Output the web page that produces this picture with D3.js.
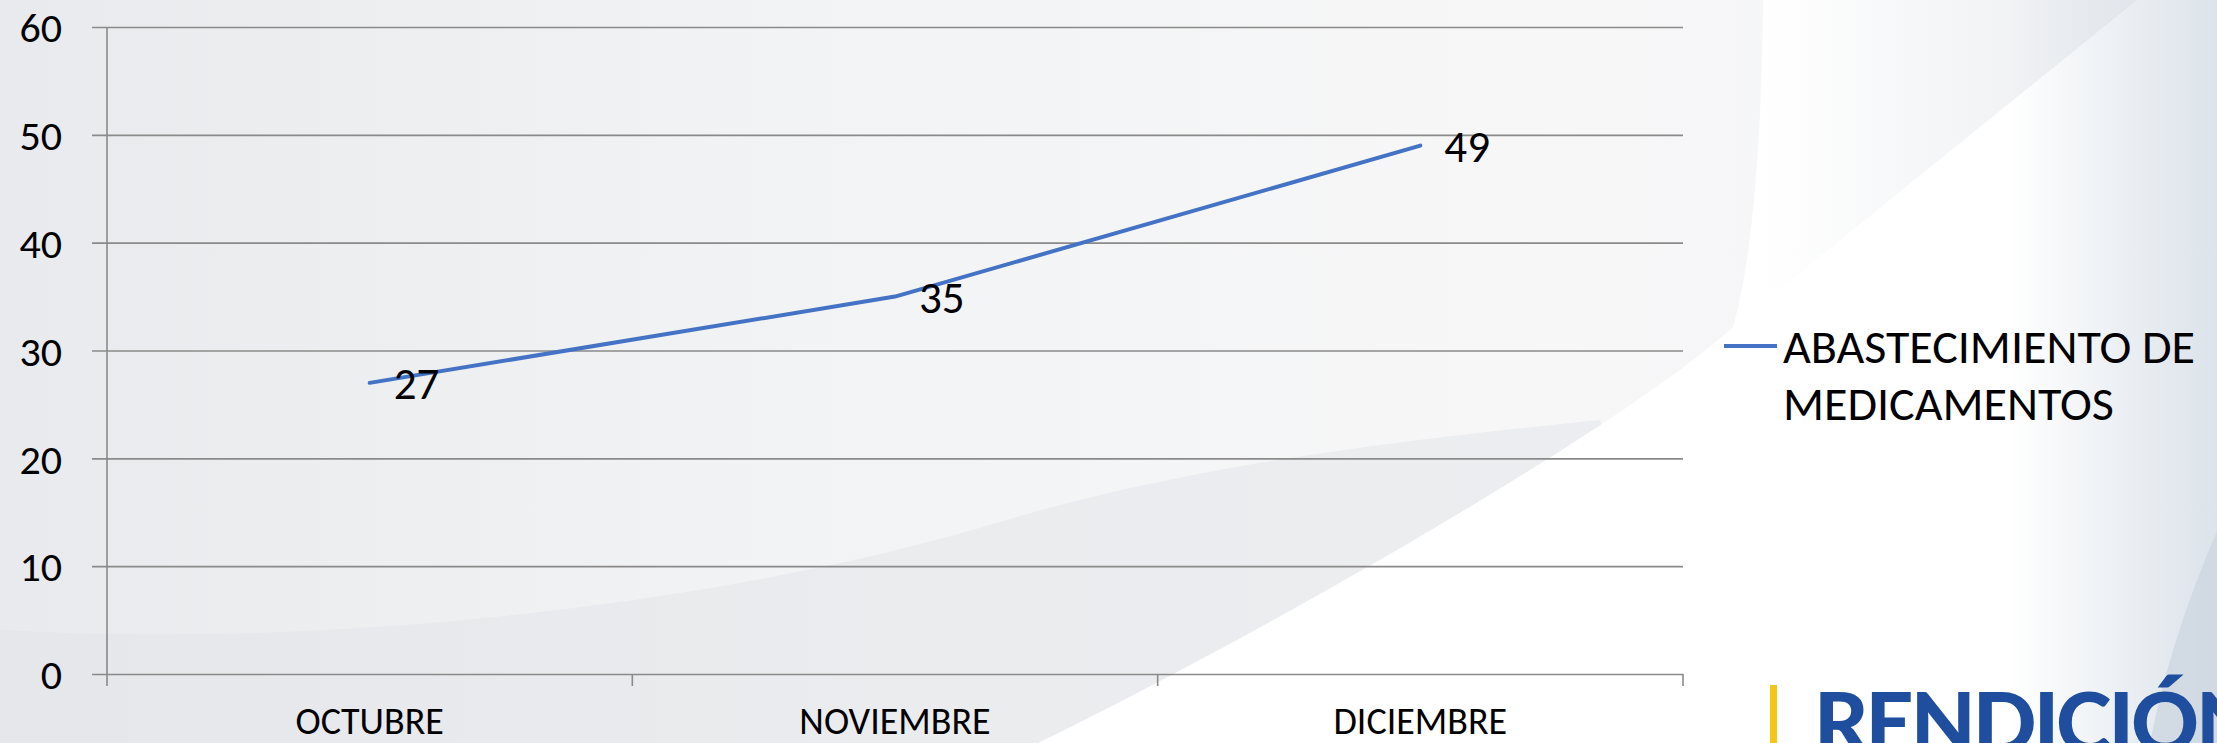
<!DOCTYPE html>
<html>
<head>
<meta charset="utf-8">
<script src="https://cdn.jsdelivr.net/npm/d3@7"></script>
<style>
  body { margin: 0; background: #f3f4f6; }
  svg { display: block; }
  text { font-family: Carlito, Calibri, Lato, sans-serif; fill: #000; }
</style>
</head>
<body>
<svg id="chart" width="2217" height="743"></svg>
<script>
// data
const months = ['OCTUBRE', 'NOVIEMBRE', 'DICIEMBRE'];
const supply = [27, 35, 49];
const yTicks = [0, 10, 20, 30, 40, 50, 60];
const seriesName = ['ABASTECIMIENTO DE', 'MEDICAMENTOS'];

const W = 2217, H = 743;
const margin = { top: 27, right: 534, bottom: 69, left: 107 };
const svg = d3.select('#chart');

// background swooshes
const defs = svg.append('defs');
const bg = defs.append('linearGradient').attr('id', 'bg');
[['0%', '#e8eaed'], ['35%', '#f2f3f4'], ['70%', '#f7f7f8'], ['100%', '#f4f5f7']]
  .forEach(s => bg.append('stop').attr('offset', s[0]).attr('stop-color', s[1]));
const wedge = defs.append('linearGradient').attr('id', 'wedge');
[['0%', '#ffffff'], ['100%', '#eaecef']]
  .forEach(s => wedge.append('stop').attr('offset', s[0]).attr('stop-color', s[1]));
const edge = defs.append('linearGradient').attr('id', 'edge');
[['0%', 'rgba(218,225,233,0)'], ['100%', '#dce3ea']]
  .forEach(s => edge.append('stop').attr('offset', s[0]).attr('stop-color', s[1]));

svg.append('rect').attr('width', W).attr('height', H).attr('fill', 'url(#bg)');
svg.append('path')
  .attr('d', 'M0,630 C300,648 700,612 1000,522 C1150,478 1300,450 1600,420 L1700,743 L0,743 Z')
  .attr('fill', '#e1e3e7').attr('opacity', 0.5);
svg.append('path')
  .attr('d', 'M1038,743 C1250,640 1620,430 1733,327 C1755,250 1762,120 1763,0 L2217,0 L2217,743 Z')
  .attr('fill', '#ffffff');
svg.append('path')
  .attr('d', 'M1763,0 L2137,0 L1766,300 Z')
  .attr('fill', 'url(#wedge)');
svg.append('rect').attr('x', 2010).attr('width', 207).attr('height', H).attr('fill', 'url(#edge)');
svg.append('path')
  .attr('d', 'M2217,531 Q2170,640 2150,743 L2217,743 Z')
  .attr('fill', '#cfd8e2').attr('opacity', 0.85);

// scales
const x = d3.scaleBand().domain(months).range([margin.left, W - margin.right]);
const y = d3.scaleLinear().domain([0, 60]).range([H - margin.bottom, margin.top]);

// gridlines + y labels
const yAxis = svg.append('g')
  .attr('transform', `translate(${margin.left},0)`)
  .call(d3.axisLeft(y).tickValues(yTicks).tickSize(-(W - margin.right - margin.left)).tickPadding(0));
yAxis.select('.domain').remove();
yAxis.selectAll('.tick line')
  .attr('x1', -15)
  .attr('stroke', '#8a8a8a').attr('stroke-width', 1.6);
yAxis.selectAll('.tick text')
  .attr('x', -45)
  .attr('dy', '0.35em')
  .style('font-size', '42px');

// vertical axis line
svg.append('line')
  .attr('x1', margin.left).attr('x2', margin.left)
  .attr('y1', y(60)).attr('y2', y(0) + 12)
  .attr('stroke', '#8a8a8a').attr('stroke-width', 1.6);

// category boundary ticks
const bounds = months.map(m => x(m)).concat([x.range()[1]]);
svg.selectAll('.xtick')
  .data(bounds.slice(1))
  .join('line')
  .attr('class', 'xtick')
  .attr('x1', d => d).attr('x2', d => d)
  .attr('y1', y(0)).attr('y2', y(0) + 12)
  .attr('stroke', '#8a8a8a').attr('stroke-width', 1.6);

// x labels
svg.selectAll('.xlabel')
  .data(months)
  .join('text')
  .attr('class', 'xlabel')
  .attr('x', d => x(d) + x.bandwidth() / 2)
  .attr('y', 734)
  .attr('text-anchor', 'middle')
  .style('font-size', '38px')
  .text(d => d);

// line
const pts = months.map((m, i) => [x(m) + x.bandwidth() / 2, y(supply[i])]);
svg.append('path')
  .attr('d', d3.line()(pts))
  .attr('fill', 'none')
  .attr('stroke', '#4472c4')
  .attr('stroke-width', 4)
  .attr('stroke-linecap', 'round')
  .attr('stroke-linejoin', 'round');

// data labels
svg.selectAll('.dlabel')
  .data(pts)
  .join('text')
  .attr('class', 'dlabel')
  .attr('x', d => d[0] + 24)
  .attr('y', d => d[1])
  .attr('dy', '0.36em')
  .style('font-size', '45px')
  .text((d, i) => supply[i]);

// legend
const lg = svg.append('g').attr('transform', 'translate(1724,346)');
lg.append('line')
  .attr('x1', 0).attr('x2', 53)
  .attr('stroke', '#4472c4').attr('stroke-width', 4);
lg.selectAll('text')
  .data(seriesName)
  .join('text')
  .attr('x', 59)
  .attr('y', (d, i) => 17 + i * 57)
  .style('font-size', '48px')
  .text(d => d);

// logo strip
svg.append('rect')
  .attr('x', 1770).attr('y', 685).attr('width', 7).attr('height', 60)
  .attr('fill', '#f5c518');
svg.append('text')
  .attr('x', 1814).attr('y', 753)
  .style('font-family', 'Lato, sans-serif')
  .style('font-weight', 900)
  .style('font-size', '84px')
  .style('letter-spacing', '-3px')
  .style('fill', '#1f4e9f')
  .text('RENDICIÓN');
</script>
</body>
</html>
